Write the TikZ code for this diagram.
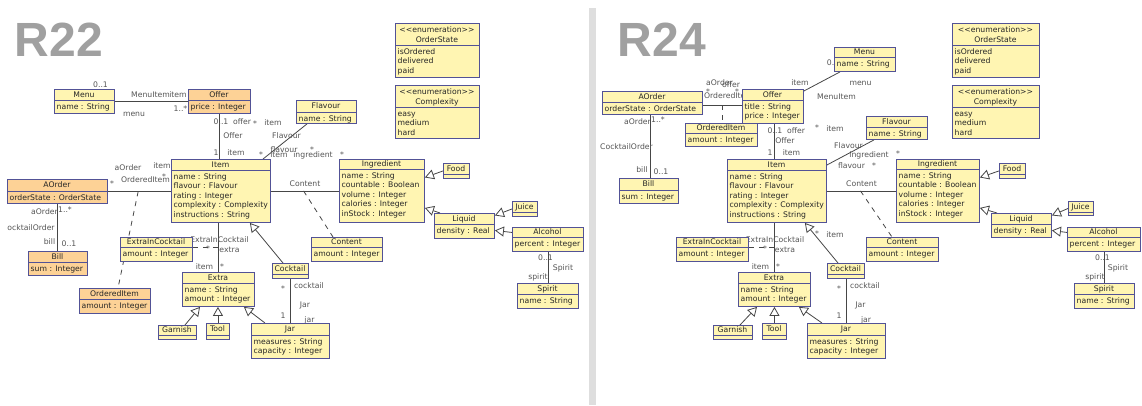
\documentclass[tikz,border=0pt]{standalone}
\usepackage{fontspec}
\setmainfont{DejaVu Sans}
\newfontfamily\titlefont{Liberation Sans}
\usetikzlibrary{arrows.meta}

\definecolor{clsfill}{RGB}{255,245,178}
\definecolor{ordfill}{RGB}{253,210,150}
\definecolor{clsborder}{RGB}{82,82,150}
\definecolor{linkcol}{RGB}{70,70,70}
\definecolor{lblcol}{RGB}{85,85,85}
\definecolor{titlecol}{RGB}{160,160,160}
\definecolor{divcol}{RGB}{222,222,222}

\pgfdeclarelayer{back}
\pgfsetlayers{back,main}

% class box: name, x1, y1, x2, y2, separator y, fill, title, attributes
\newcommand\umlclass[9]{%
  \node[classbox,fill=#7,minimum width={(#4-#2)*1pt},minimum height={(#5-#3)*1pt}] (#1) at (#2,#3) {};
  \draw[sepline] (#2,#6) -- (#4,#6);
  \node[hdr] (#1-h) at ({(#2+#4)/2},{(#3+#6)/2}) {#8};
  \node[attr] (#1-a) at ({#2+2.5},{#6+2.8}) {\rule{0pt}{6pt}#9};
}
% enumeration box: name, x1, y1, x2, y2, separator y, title, literals
\newcommand\umlenum[8]{%
  \node[classbox,fill=clsfill,minimum width={(#4-#2)*1pt},minimum height={(#5-#3)*1pt}] (#1) at (#2,#3) {};
  \draw[sepline] (#2,#6) -- (#4,#6);
  \node[hdr] (#1-s) at ({(#2+#4)/2},{#3+7}) {<\kern0pt<enumeration>\kern0pt>};
  \node[hdr] (#1-h) at ({(#2+#4)/2},{#3+16.3}) {#7};
  \node[attr] (#1-a) at ({#2+2.5},{#6+2.8}) {\rule{0pt}{6pt}#8};
}
\newcounter{lblc}
\newcommand\lbl[3]{\stepcounter{lblc}\node[lbl] (t\arabic{lblc}) at (#1,#2) {#3};}
\newcommand\lst[2]{\stepcounter{lblc}\node[starlbl] (t\arabic{lblc}) at (#1,#2) {*};}

\begin{document}
\begin{tikzpicture}[x=1pt,y=-1pt,
  font=\fontsize{7.7}{9.6}\selectfont,
  classbox/.style={draw=clsborder,line width=0.9pt,rectangle,inner sep=0pt,anchor=north west},
  sepline/.style={draw=clsborder,line width=0.9pt},
  hdr/.style={inner sep=0pt,text height=5.5pt,text depth=0pt,text=black!85},
  attr/.style={inner sep=0pt,anchor=north west,align=left,text=black!85},
  lbl/.style={inner sep=0pt,text height=5.5pt,text depth=0pt,text=lblcol},
  starlbl/.style={lbl,yshift=-2pt},
  assoc/.style={draw=linkcol,line width=0.8pt},
  gen/.style={assoc,-{Triangle[open,length=9pt,width=10pt]}},
  aclass/.style={assoc,dash pattern=on 5pt off 5pt},
  titletext/.style={inner sep=0pt,text height=34.4pt,text depth=0pt,text=titlecol,
    font=\titlefont\bfseries\fontsize{48}{48}\selectfont},
]
\useasboundingbox (0,0) rectangle (1142,405);
\begin{pgfonlayer}{back}
\fill[white] (0,0) rectangle (1142,405);
\fill[divcol] (589,8) rectangle (596,405);
\end{pgfonlayer}

\node[titletext] (title-l) at (59,39.5) {R22};
\node[titletext] (title-r) at (662,39.5) {R24};

% ---------------- R22 classes ----------------
\umlclass{l-menu}{54}{89}{114}{113}{100}{clsfill}{Menu}{name : String}
\umlclass{l-offer}{188}{89}{250}{113}{100}{ordfill}{Offer}{price : Integer}
\umlclass{l-flavour}{296}{100}{356}{123}{112}{clsfill}{Flavour}{name : String}
\umlclass{l-item}{171}{159}{270}{222}{170}{clsfill}{Item}{name : String\\flavour : Flavour\\rating : Integer\\complexity : Complexity\\instructions : String}
\umlclass{l-ingr}{339}{159}{424}{222}{169}{clsfill}{Ingredient}{name : String\\countable : Boolean\\volume : Integer\\calories : Integer\\inStock : Integer}
\umlclass{l-food}{443}{163}{469}{178}{174}{clsfill}{Food}{}
\umlclass{l-liquid}{434}{213}{494}{238}{224}{clsfill}{Liquid}{density : Real}
\umlclass{l-juice}{512}{201}{537}{216}{212}{clsfill}{Juice}{}
\umlclass{l-alcohol}{512}{227}{583}{251}{237}{clsfill}{Alcohol}{percent : Integer}
\umlclass{l-spirit}{517}{283}{578}{308}{294}{clsfill}{Spirit}{name : String}
\umlclass{l-content}{311}{237}{382}{261}{247}{clsfill}{Content}{amount : Integer}
\umlclass{l-cocktail}{272}{263}{308}{278}{274}{clsfill}{Cocktail}{}
\umlclass{l-jar}{251}{323}{329}{358}{335}{clsfill}{Jar}{measures : String\\capacity : Integer}
\umlclass{l-extra}{182}{272}{254}{306}{283}{clsfill}{Extra}{name : String\\amount : Integer}
\umlclass{l-eic}{120}{237}{192}{261}{247}{clsfill}{ExtraInCocktail}{amount : Integer}
\umlclass{l-garnish}{158}{325}{196}{339}{335}{clsfill}{Garnish}{}
\umlclass{l-tool}{206}{323}{229}{339}{335}{clsfill}{Tool}{}
\umlclass{l-aorder}{7}{179}{107}{203}{191}{ordfill}{AOrder}{orderState : OrderState}
\umlclass{l-oitem}{79}{288}{150}{313}{299}{ordfill}{OrderedItem}{amount : Integer}
\umlclass{l-bill}{28}{251}{87}{275}{262}{ordfill}{Bill}{sum : Integer}
\umlenum{l-ostate}{395}{23}{479}{77}{45}{OrderState}{isOrdered\\delivered\\paid}
\umlenum{l-cplx}{395}{85}{479}{138}{107}{Complexity}{easy\\medium\\hard}

% ---------------- R24 classes ----------------
\umlclass{r-menu}{834}{47}{895}{71}{57}{clsfill}{Menu}{name : String}
\umlclass{r-offer}{742}{89}{803}{123}{100}{clsfill}{Offer}{title : String\\price : Integer}
\umlclass{r-aorder}{602}{91}{702}{114}{102}{clsfill}{AOrder}{orderState : OrderState}
\umlclass{r-oitem}{685}{123}{757}{146}{133}{clsfill}{OrderedItem}{amount : Integer}
\umlclass{r-bill}{619}{178}{678}{203}{190}{clsfill}{Bill}{sum : Integer}
\umlclass{r-flavour}{866}{116}{927}{139}{127}{clsfill}{Flavour}{name : String}
\umlclass{r-item}{727}{159}{826}{222}{170}{clsfill}{Item}{name : String\\flavour : Flavour\\rating : Integer\\complexity : Complexity\\instructions : String}
\umlclass{r-ingr}{896}{159}{979}{222}{169}{clsfill}{Ingredient}{name : String\\countable : Boolean\\volume : Integer\\calories : Integer\\inStock : Integer}
\umlclass{r-content}{866}{237}{938}{261}{247}{clsfill}{Content}{amount : Integer}
\umlclass{r-food}{999}{163}{1025}{178}{174}{clsfill}{Food}{}
\umlclass{r-liquid}{991}{213}{1051}{237}{224}{clsfill}{Liquid}{density : Real}
\umlclass{r-juice}{1068}{201}{1093}{215}{212}{clsfill}{Juice}{}
\umlclass{r-alcohol}{1067}{227}{1140}{251}{237}{clsfill}{Alcohol}{percent : Integer}
\umlclass{r-spirit}{1074}{283}{1134}{308}{294}{clsfill}{Spirit}{name : String}
\umlclass{r-cocktail}{827}{263}{864}{278}{274}{clsfill}{Cocktail}{}
\umlclass{r-jar}{807}{323}{885}{358}{335}{clsfill}{Jar}{measures : String\\capacity : Integer}
\umlclass{r-extra}{738}{272}{810}{306}{283}{clsfill}{Extra}{name : String\\amount : Integer}
\umlclass{r-eic}{676}{237}{748}{261}{247}{clsfill}{ExtraInCocktail}{amount : Integer}
\umlclass{r-garnish}{713}{325}{752}{339}{335}{clsfill}{Garnish}{}
\umlclass{r-tool}{762}{323}{786}{339}{335}{clsfill}{Tool}{}
\umlenum{r-ostate}{952}{23}{1039}{77}{45}{OrderState}{isOrdered\\delivered\\paid}
\umlenum{r-cplx}{952}{85}{1039}{138}{107}{Complexity}{easy\\medium\\hard}

\begin{pgfonlayer}{back}
% ---------------- R22 connectors ----------------
\draw[assoc] (l-menu.east) -- (l-offer.west);
\draw[assoc] (l-offer.south) -- (l-offer.south |- l-item.north);
\draw[assoc] ([xshift=11pt]l-flavour.south west) -- ([xshift=92pt]l-item.north west);
\draw[assoc] (l-aorder.east) -- (l-aorder.east -| l-item.west) coordinate[pos=0.48] (l-oi-on);
\draw[aclass] (l-oi-on) -- ([xshift=39pt]l-oitem.north west);
\draw[assoc] (l-aorder.south) -- (l-aorder.south |- l-bill.north);
\draw[assoc] (l-item.east) -- (l-ingr.west) coordinate[pos=0.48] (l-ct-on);
\draw[aclass] (l-ct-on) -- ([xshift=22pt]l-content.north west);
\draw[assoc] (l-extra.north) -- (l-extra.north |- l-item.south);
\draw[aclass] ([yshift=2pt]l-eic.east) -- ([yshift=2pt]l-eic.east -| l-extra.north);
\draw[assoc] (l-cocktail.south) -- (l-jar.north);
\draw[assoc] (l-alcohol.south) -- (l-spirit.north);
\draw[gen] (l-food.west) -- ([yshift=13.5pt]l-ingr.east);
\draw[gen] ([xshift=6pt]l-liquid.north west) -- ([yshift=15pt]l-ingr.south east);
\draw[gen] (l-juice.west) -- ([yshift=10.5pt]l-liquid.east);
\draw[gen] ([yshift=7pt]l-alcohol.west) -- ([yshift=-4.5pt]l-liquid.east);
\draw[gen] ([xshift=11pt]l-cocktail.north west) -- ([xshift=-21pt]l-item.south east);
\draw[gen] ([xshift=27pt]l-garnish.north west) -- ([xshift=18pt]l-extra.south west);
\draw[gen] (l-tool.north) -- (l-tool.north |- l-extra.south);
\draw[gen] ([xshift=14pt]l-jar.north west) -- ([xshift=-11pt]l-extra.south east);

% R22 end labels
\lbl{100.5}{85}{0..1}
\lbl{150.5}{95}{MenuItem}
\lbl{178}{95}{item}
\lbl{134}{114}{menu}
\lbl{180.5}{109}{1..*}
\lbl{221}{122}{0..1}
\lbl{242}{122}{offer}
\lst{255}{122}
\lbl{273}{123}{item}
\lbl{233}{136}{Offer}
\lbl{286.5}{136}{Flavour}
\lbl{216}{153}{1}
\lbl{236}{153}{item}
\lst{261}{153}
\lbl{279}{155}{item}
\lbl{284}{150}{flavour}
\lst{312}{148}
\lbl{313}{155}{ingredient}
\lst{342}{153}
\lbl{305}{184}{Content}
\lbl{128}{168}{aOrder}
\lbl{162}{166}{item}
\lst{112}{182}
\lbl{145.5}{180}{OrderedItem}
\lst{164}{175}
\lbl{44.5}{212}{aOrder}
\lbl{65}{210}{1..*}
\lbl{31}{228}{ocktailOrder}
\lbl{49.5}{242}{bill}
\lbl{69}{244}{0..1}
\lbl{219.5}{240}{ExtraInCocktail}
\lst{208}{247}
\lbl{229.5}{250}{extra}
\lbl{204.5}{267}{item}
\lst{222}{265}
\lst{283}{287}
\lbl{309}{286}{cocktail}
\lbl{305}{305}{Jar}
\lbl{283}{316}{1}
\lbl{309.5}{320}{jar}
\lbl{545.5}{258}{0..1}
\lbl{563}{268}{Spirit}
\lbl{538}{277}{spirit}

% ---------------- R24 connectors ----------------
\draw[assoc] ([yshift=-2pt]r-offer.north east) -- ([xshift=6pt]r-menu.south west);
\draw[assoc] ([yshift=-2.5pt]r-aorder.east) -- ([yshift=-2.5pt]r-aorder.east -| r-offer.west) coordinate[pos=0.5] (r-oi-on);
\draw[aclass] (r-oi-on) -- (r-oi-on |- r-oitem.north);
\draw[assoc] ([xshift=1.5pt]r-offer.south) -- ([xshift=1.5pt]r-offer.south |- r-item.north);
\draw[assoc] ([xshift=-2pt]r-aorder.south) -- ([xshift=-2pt]r-aorder.south |- r-bill.north);
\draw[assoc] ([xshift=8pt]r-flavour.south west) -- ([yshift=-6pt]r-item.north east);
\draw[assoc] (r-item.east) -- (r-ingr.west) coordinate[pos=0.486] (r-ct-on);
\draw[aclass] (r-ct-on) -- ([xshift=26pt]r-content.north west);
\draw[assoc] (r-extra.north) -- (r-extra.north |- r-item.south);
\draw[aclass] ([yshift=2pt]r-eic.east) -- ([yshift=2pt]r-eic.east -| r-extra.north);
\draw[assoc] (r-cocktail.south) -- (r-cocktail.south |- r-jar.north);
\draw[assoc] (r-alcohol.south) -- (r-alcohol.south |- r-spirit.north);
\draw[gen] (r-food.west) -- ([yshift=13.5pt]r-ingr.east);
\draw[gen] ([xshift=6pt]r-liquid.north west) -- ([yshift=15pt]r-ingr.south east);
\draw[gen] (r-juice.west) -- ([yshift=10pt]r-liquid.east);
\draw[gen] ([yshift=7pt]r-alcohol.west) -- ([yshift=-5pt]r-liquid.east);
\draw[gen] ([xshift=11pt]r-cocktail.north west) -- ([xshift=-22pt]r-item.south east);
\draw[gen] ([xshift=27pt]r-garnish.north west) -- ([xshift=19pt]r-extra.south west);
\draw[gen] (r-tool.north) -- (r-tool.north |- r-extra.south);
\draw[gen] ([xshift=15pt]r-jar.north west) -- ([xshift=-12pt]r-extra.south east);

% R24 end labels
\lbl{834.3}{63}{0..1}
\lbl{800}{83}{item}
\lbl{860.5}{83}{menu}
\lbl{836.5}{97}{MenuItem}
\lbl{719.5}{83}{aOrder}
\lbl{731}{85}{offer}
\lst{708}{90}
\lst{737}{90}
\lbl{728.5}{96}{OrderedItem}
\lbl{775}{131}{0..1}
\lbl{796}{131}{offer}
\lst{817}{126}
\lbl{835}{129}{item}
\lbl{785}{141}{Offer}
\lbl{770}{153}{1}
\lbl{791.5}{153}{item}
\lbl{637.5}{122}{aOrder}
\lbl{658}{120}{1..*}
\lbl{626.5}{147}{CocktailOrder}
\lbl{642}{170}{bill}
\lbl{661}{172}{0..1}
\lbl{848.5}{146}{Flavour}
\lbl{869}{155}{ingredient}
\lst{898}{152}
\lbl{851.5}{166}{flavour}
\lst{874}{164}
\lbl{861.5}{184}{Content}
\lst{817}{232}
\lbl{835}{235}{item}
\lbl{775}{240}{ExtraInCocktail}
\lst{765}{247}
\lbl{785}{250}{extra}
\lbl{760.5}{267}{item}
\lst{778}{265}
\lst{839}{287}
\lbl{865}{286}{cocktail}
\lbl{860.5}{305}{Jar}
\lbl{839}{316}{1}
\lbl{866}{320}{jar}
\lbl{1102.5}{258}{0..1}
\lbl{1118}{268}{Spirit}
\lbl{1095}{277}{spirit}
\end{pgfonlayer}
\end{tikzpicture}
\end{document}
